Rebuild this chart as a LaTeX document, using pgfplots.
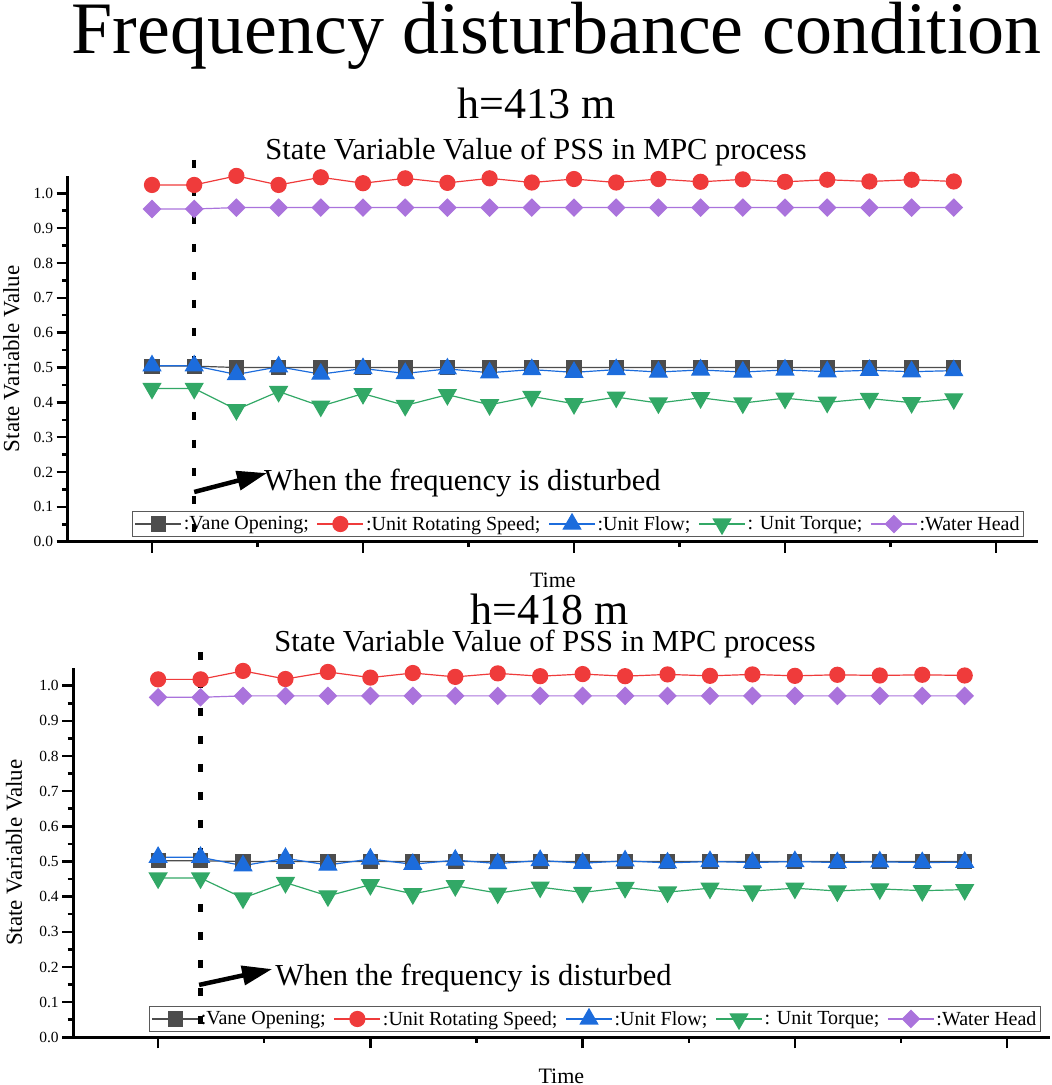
\documentclass[border=0pt]{standalone}
\usepackage{fontspec}
\setmainfont{Liberation Serif}
\usepackage{pgfplots}
\pgfplotsset{compat=1.18}
\usepackage{pgfplotstable}
\usetikzlibrary{arrows.meta}

\definecolor{cVane}{RGB}{77,77,77}
\definecolor{cSpeed}{RGB}{239,59,59}
\definecolor{cFlow}{RGB}{28,108,220}
\definecolor{cTorque}{RGB}{50,168,102}
\definecolor{cHead}{RGB}{170,115,220}
\definecolor{cLeg}{RGB}{90,90,90}

% h = 413 m
\pgfplotstableread{
x vane speed flow torque head
1  0.504 1.024 0.505 0.440 0.955
2  0.504 1.024 0.505 0.440 0.955
3  0.500 1.050 0.480 0.379 0.959
4  0.500 1.024 0.502 0.431 0.959
5  0.500 1.046 0.481 0.389 0.959
6  0.500 1.029 0.497 0.425 0.959
7  0.500 1.043 0.483 0.391 0.959
8  0.500 1.030 0.496 0.422 0.959
9  0.500 1.043 0.485 0.393 0.959
10 0.500 1.031 0.494 0.417 0.959
11 0.500 1.041 0.486 0.396 0.959
12 0.500 1.031 0.494 0.415 0.959
13 0.500 1.041 0.487 0.398 0.959
14 0.500 1.033 0.493 0.413 0.959
15 0.500 1.040 0.487 0.398 0.959
16 0.500 1.033 0.493 0.412 0.959
17 0.500 1.039 0.488 0.400 0.959
18 0.500 1.034 0.492 0.411 0.959
19 0.500 1.039 0.488 0.399 0.959
20 0.500 1.034 0.491 0.410 0.959
}\dataA

% h = 418 m
\pgfplotstableread{
x vane speed flow torque head
1  0.502 1.018 0.512 0.453 0.967
2  0.502 1.018 0.512 0.453 0.967
3  0.500 1.042 0.488 0.396 0.971
4  0.500 1.019 0.509 0.440 0.971
5  0.500 1.039 0.490 0.402 0.971
6  0.500 1.023 0.507 0.434 0.971
7  0.500 1.036 0.492 0.408 0.971
8  0.500 1.025 0.504 0.431 0.971
9  0.500 1.035 0.494 0.410 0.971
10 0.500 1.027 0.503 0.427 0.971
11 0.500 1.033 0.495 0.412 0.971
12 0.500 1.027 0.502 0.426 0.971
13 0.500 1.032 0.496 0.413 0.971
14 0.500 1.028 0.500 0.424 0.971
15 0.500 1.032 0.497 0.416 0.971
16 0.500 1.028 0.500 0.424 0.971
17 0.500 1.031 0.497 0.416 0.971
18 0.500 1.029 0.499 0.422 0.971
19 0.500 1.031 0.497 0.417 0.971
20 0.500 1.029 0.498 0.420 0.971
}\dataB

\pgfplotsset{
  panel/.style={
    scale only axis, clip=false,
    xmin=-1, xmax=22, ymin=0, ymax=1.05,
    axis x line=bottom, axis y line=left,
    axis line style={-, line width=3pt, black},
    xtick={1,6,11,16,21}, xticklabels={},
    minor x tick num=1,
    ytick={0,0.1,0.2,0.3,0.4,0.5,0.6,0.7,0.8,0.9,1.0},
    minor y tick num=1,
    tick align=outside,
    major tick length=11pt, minor tick length=5.5pt,
    every tick/.style={black, line width=2.5pt},
    yticklabel style={font=\fontsize{15.5}{17}\selectfont,
      /pgf/number format/.cd, fixed, fixed zerofill, precision=1, assume math mode=true},
    ylabel={State Variable Value},
    xlabel={Time},
    xlabel style={at={(axis description cs:0.5,0)}, anchor=center, yshift=-39pt,
      font=\fontsize{22}{24}\selectfont},
    legend columns=5,
    legend cell align=left,
    legend style={anchor=south east, draw=cLeg, line width=1pt, fill=none,
      font=\fontsize{20}{23}\selectfont, inner xsep=2pt, inner ysep=2.5pt,
      /tikz/every even column/.append style={column sep=6pt}},
    legend image code/.code={\draw[mark repeat=2,mark phase=2,#1]
      plot coordinates {(0pt,0pt)(23pt,0pt)(46pt,0pt)};},
  },
  sVane/.style={color=cVane, line width=1.2pt, mark=square*, mark size=7pt, mark options={solid}},
  sSpeed/.style={color=cSpeed, line width=1.2pt, mark=*, mark size=7.5pt, mark options={solid}},
  sFlow/.style={color=cFlow, line width=1.2pt, mark=triangle*, mark size=10pt, mark options={solid}},
  sTorque/.style={color=cTorque, line width=1.2pt, mark=triangle*, mark size=10pt, mark options={solid, rotate=180}},
  sHead/.style={color=cHead, line width=1.2pt, mark=square*, mark size=6pt, mark options={solid, rotate=45}},
}

\begin{document}
\begin{tikzpicture}
\path[use as bounding box] (0pt,0pt) rectangle (1052pt,1085pt);

\node[anchor=base, inner sep=0pt, font=\fontsize{74}{80}\selectfont] at (556.7pt,1031.5pt) {Frequency disturbance condition};
\node[anchor=base, inner sep=0pt, font=\fontsize{44}{48}\selectfont] at (537pt,966.7pt) {h=413 m};
\node[anchor=base, inner sep=0pt, font=\fontsize{30.5}{34}\selectfont] at (536pt,925pt) {State Variable Value of PSS in MPC process};
\node[anchor=base, inner sep=0pt, font=\fontsize{44}{48}\selectfont] at (550pt,460pt) {h=418 m};
\node[anchor=base, inner sep=0pt, font=\fontsize{30.5}{34}\selectfont] at (545pt,433.3pt) {State Variable Value of PSS in MPC process};

% top panel
\begin{axis}[panel, at={(67.6pt,543.3pt)}, anchor=south west, width=970.6pt, height=365.8pt,
  ylabel style={at={(axis description cs:-0.058,0.5)}, anchor=center, font=\fontsize{23}{26}\selectfont},
  legend style={at={(0.9854,0.0128)}}]
\addplot[sVane] table[x=x,y=vane] {\dataA};
\addlegendentry{:Vane Opening;}
\addplot[sSpeed] table[x=x,y=speed] {\dataA};
\addlegendentry{:Unit Rotating Speed;}
\addplot[sFlow] table[x=x,y=flow] {\dataA};
\addlegendentry{:Unit Flow;}
\addplot[sTorque] table[x=x,y=torque] {\dataA};
\addlegendentry{: Unit Torque;}
\addplot[sHead] table[x=x,y=head] {\dataA};
\addlegendentry{:Water Head}
\addplot[black, line width=4.5pt, dash pattern=on 8pt off 20pt, forget plot] coordinates {(2,1.096) (2,0)};
\draw[black, line width=4.5pt, -{Triangle[length=30pt,width=19pt]}] (axis cs:2,0.1427) -- (axis cs:3.725,0.197);
\node[anchor=base west, inner sep=0pt, font=\fontsize{30.5}{34}\selectfont] at (axis cs:3.654,0.148) {When the frequency is disturbed};
\end{axis}

% bottom panel
\begin{axis}[panel, at={(73.2pt,47.7pt)}, anchor=south west, width=976.4pt, height=369.2pt,
  ylabel style={at={(axis description cs:-0.0606,0.5)}, anchor=center, font=\fontsize{23}{26}\selectfont},
  legend style={at={(0.9912,0.0144)}}]
\addplot[sVane] table[x=x,y=vane] {\dataB};
\addlegendentry{:Vane Opening;}
\addplot[sSpeed] table[x=x,y=speed] {\dataB};
\addlegendentry{:Unit Rotating Speed;}
\addplot[sFlow] table[x=x,y=flow] {\dataB};
\addlegendentry{:Unit Flow;}
\addplot[sTorque] table[x=x,y=torque] {\dataB};
\addlegendentry{: Unit Torque;}
\addplot[sHead] table[x=x,y=head] {\dataB};
\addlegendentry{:Water Head}
\addplot[black, line width=4.5pt, dash pattern=on 8pt off 20pt, forget plot] coordinates {(2,1.096) (2,0)};
\draw[black, line width=4.5pt, -{Triangle[length=30pt,width=19pt]}] (axis cs:1.966,0.149) -- (axis cs:3.686,0.194);
\node[anchor=base west, inner sep=0pt, font=\fontsize{30.5}{34}\selectfont] at (axis cs:3.756,0.146) {When the frequency is disturbed};
\end{axis}
\end{tikzpicture}
\end{document}
